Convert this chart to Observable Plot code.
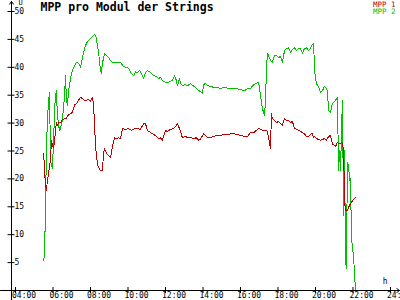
<!DOCTYPE html>
<html><head><meta charset="utf-8">
<script src="https://cdn.jsdelivr.net/npm/d3@7"></script>
<script src="https://cdn.jsdelivr.net/npm/@observablehq/plot@0.6"></script>
<style>html,body{margin:0;padding:0;background:#fff;} svg{display:block}</style>
</head><body><div id="chart"></div>
<script>
const title = "MPP pro Modul der Strings";
const seriesNames = ["MPP 1", "MPP 2"];
const seriesColors = ["#c00000", "#00c000"];
const yAxisLabel = "U";
const xAxisLabel = "h";
// time in minutes since midnight
const timeMPP1 = [330,333,336,339,342,346,349,352,355,358,362,365,368,371,374,378,384,390,397,403,406,410,416,422,429,435,442,448,454,461,467,474,480,486,490,493,496,499,502,506,512,518,522,525,531,538,544,550,557,563,570,576,582,592,602,611,621,630,640,650,656,662,672,682,691,698,704,710,720,726,736,746,752,758,765,774,784,790,800,810,819,826,832,842,848,854,864,874,886,896,909,922,934,947,960,973,982,992,1002,1011,1018,1024,1030,1037,1043,1046,1050,1056,1059,1062,1069,1075,1082,1088,1094,1101,1107,1114,1120,1126,1133,1139,1146,1152,1158,1165,1171,1178,1184,1190,1194,1197,1203,1210,1216,1222,1229,1235,1242,1248,1254,1264,1270,1277,1283,1286,1290,1293,1296,1302,1306,1312,1322,1328];
const valueMPP1 = [24.6,21.5,18.8,17.9,19.7,21.1,22.4,23.3,26.9,26.0,25.6,26.9,28.7,30.1,29.6,30.1,30.1,30.6,30.8,30.8,31.2,31.5,31.7,31.9,33.3,33.5,34.1,34.6,34.4,34.1,34.1,34.2,33.9,34.6,33.2,29.6,26.0,24.2,22.8,22.0,21.5,21.5,24.7,25.4,24.6,24.2,23.8,25.8,27.4,27.2,27.4,27.2,29.0,28.9,29.0,28.7,29.0,29.0,28.9,29.9,29.9,28.7,28.3,28.0,27.6,27.2,27.4,26.9,28.7,28.5,28.9,29.0,29.4,29.9,29.0,27.4,27.6,27.4,27.4,27.2,27.4,26.9,27.1,28.1,27.8,27.4,27.4,27.6,27.8,27.8,28.0,28.0,28.1,28.0,27.8,27.6,27.6,28.3,28.3,28.7,29.0,28.9,28.7,28.7,28.7,28.5,27.4,25.4,31.7,30.8,30.5,30.1,30.3,29.9,29.6,30.8,30.5,30.5,30.1,30.3,29.0,28.9,28.7,28.5,28.3,28.1,27.6,27.6,28.0,28.1,27.4,27.6,27.2,27.1,26.9,27.1,27.2,26.9,27.6,27.8,26.3,25.8,26.5,26.3,26.5,26.3,25.1,16.1,14.3,14.3,14.9,15.6,16.3,16.7];
const timeMPP2 = [330,333,336,339,342,346,349,352,355,358,362,365,368,371,374,378,381,384,390,397,400,403,406,410,416,422,429,435,442,448,454,461,467,474,480,486,493,499,502,506,509,512,515,518,525,531,538,544,550,563,576,586,595,602,608,618,624,630,637,643,650,656,662,672,682,691,698,704,710,720,730,736,742,749,755,758,765,768,774,784,790,800,806,813,819,826,832,838,842,848,854,864,874,886,896,909,922,934,947,960,973,982,992,1002,1011,1018,1021,1024,1030,1037,1040,1043,1046,1050,1056,1062,1069,1075,1082,1088,1094,1101,1107,1114,1120,1126,1133,1139,1146,1152,1158,1165,1171,1178,1184,1190,1194,1197,1203,1210,1216,1222,1229,1235,1238,1242,1248,1254,1264,1270,1274,1277,1280,1283,1286,1290,1293,1296,1299,1302,1306,1309,1312,1315,1322,1328];
const valueMPP2 = [5.4,6.3,15.2,25.1,30.5,34.1,35.5,23.3,22.4,21.9,26.9,32.3,34.9,35.8,31.4,29.6,28.7,29.0,30.5,34.9,38.5,34.1,33.2,35.8,38.0,39.4,40.3,40.9,40.7,40.0,41.6,43.4,44.3,44.8,45.2,45.5,45.9,45.3,43.9,42.7,40.9,39.4,38.9,40.7,42.5,42.1,41.8,41.2,40.9,40.9,40.9,40.1,40.0,39.8,39.1,38.5,39.2,39.1,39.4,38.9,38.0,39.1,39.4,39.1,38.5,38.4,38.0,38.2,37.6,37.3,37.3,37.5,37.6,38.5,37.6,36.7,38.0,37.1,36.7,36.9,36.7,37.1,36.7,36.6,36.2,35.8,35.7,35.3,36.9,37.1,36.7,36.6,36.4,36.4,36.2,36.4,36.2,36.2,36.2,36.0,35.8,36.2,36.2,36.9,37.1,37.3,36.2,34.9,32.6,31.4,34.1,39.4,42.5,42.1,41.2,40.9,42.1,42.1,41.8,41.9,40.9,43.0,43.4,43.5,42.7,43.2,43.5,43.0,43.4,43.4,42.5,43.4,43.5,43.0,43.4,44.1,44.3,39.4,37.1,36.4,35.5,35.8,36.6,36.2,35.8,32.3,31.9,33.5,34.1,34.6,21.5,25.1,21.5,27.8,34.1,13.4,25.1,5.4,3.9,22.9,22.4,19.7,20.1,9.5,5.9,0];
const xTicks = [240, 360, 480, 600, 720, 840, 960, 1080, 1200, 1320, 1440];
const yTicks = [5, 10, 15, 20, 25, 30, 35, 40, 45, 50];

const fmt = m => String(Math.floor(m / 60)).padStart(2, "0") + ":" + String(m % 60).padStart(2, "0");
const mpp1 = timeMPP1.map((t, i) => ({t, v: valueMPP1[i]}));
const mpp2 = timeMPP2.map((t, i) => ({t, v: valueMPP2[i]}));
const xMin = 227.2, xMax = 1465.6;
const axisArrows = [
  {x1: 192, y1: 0, x2: 1469, y2: 0},
  {x1: xMin, y1: -1.8, x2: xMin, y2: 51.8}
];

const plot = Plot.plot({
  width: 400, height: 300,
  marginLeft: 11, marginRight: 2, marginTop: 11, marginBottom: 10,
  style: {fontFamily: "'DejaVu Sans Mono', monospace", fontSize: "8px", background: "#fff", color: "#000", overflow: "visible"},
  x: {domain: [xMin, xMax], axis: null},
  y: {domain: [0, 50], axis: null},
  marks: [
    Plot.line(mpp2, {x: "t", y: "v", stroke: seriesColors[1], strokeWidth: 1, shapeRendering: "crispEdges"}),
    Plot.line(mpp1, {x: "t", y: "v", stroke: seriesColors[0], strokeWidth: 1, shapeRendering: "crispEdges"}),
    Plot.arrow(axisArrows, {x1: "x1", y1: "y1", x2: "x2", y2: "y2", stroke: "#000", strokeWidth: 1, headLength: 5, headAngle: 70}),
    Plot.axisY(yTicks, {anchor: "left", tickSize: 7, dx: 3.5, tickFormat: () => ""}),
    Plot.axisY(yTicks, {anchor: "left", tickSize: 0, tickPadding: -3, textAnchor: "start", tickFormat: d => String(d), fill: "#000"}),
    Plot.axisX(xTicks, {anchor: "bottom", tickSize: 6, dy: -3, tickFormat: () => ""}),
    Plot.axisX(xTicks, {anchor: "bottom", tickSize: 0, tickPadding: 2, textAnchor: "start", dx: -3.5, tickFormat: fmt, fill: "#000"}),
    Plot.text([title], {frameAnchor: "top-left", dx: 29, dy: -4, textAnchor: "start", lineAnchor: "middle", fontSize: 11.5, fontWeight: "bold", fill: "#000"}),
    Plot.text([seriesNames[0]], {frameAnchor: "top-right", dx: -3, dy: -7, textAnchor: "end", lineAnchor: "middle", fontSize: 7.5, fill: seriesColors[0]}),
    Plot.text([seriesNames[1]], {frameAnchor: "top-right", dx: -3, dy: 0.5, textAnchor: "end", lineAnchor: "middle", fontSize: 7.5, fill: seriesColors[1]}),
    Plot.text([yAxisLabel], {frameAnchor: "top-left", dx: 7, dy: -11, lineAnchor: "top", fontSize: 7, fill: "#000"}),
    Plot.text([xAxisLabel], {frameAnchor: "bottom-right", dx: -11, dy: -9, lineAnchor: "middle", fill: "#000"})
  ]
});
document.getElementById("chart").appendChild(plot);
</script>
</body></html>
